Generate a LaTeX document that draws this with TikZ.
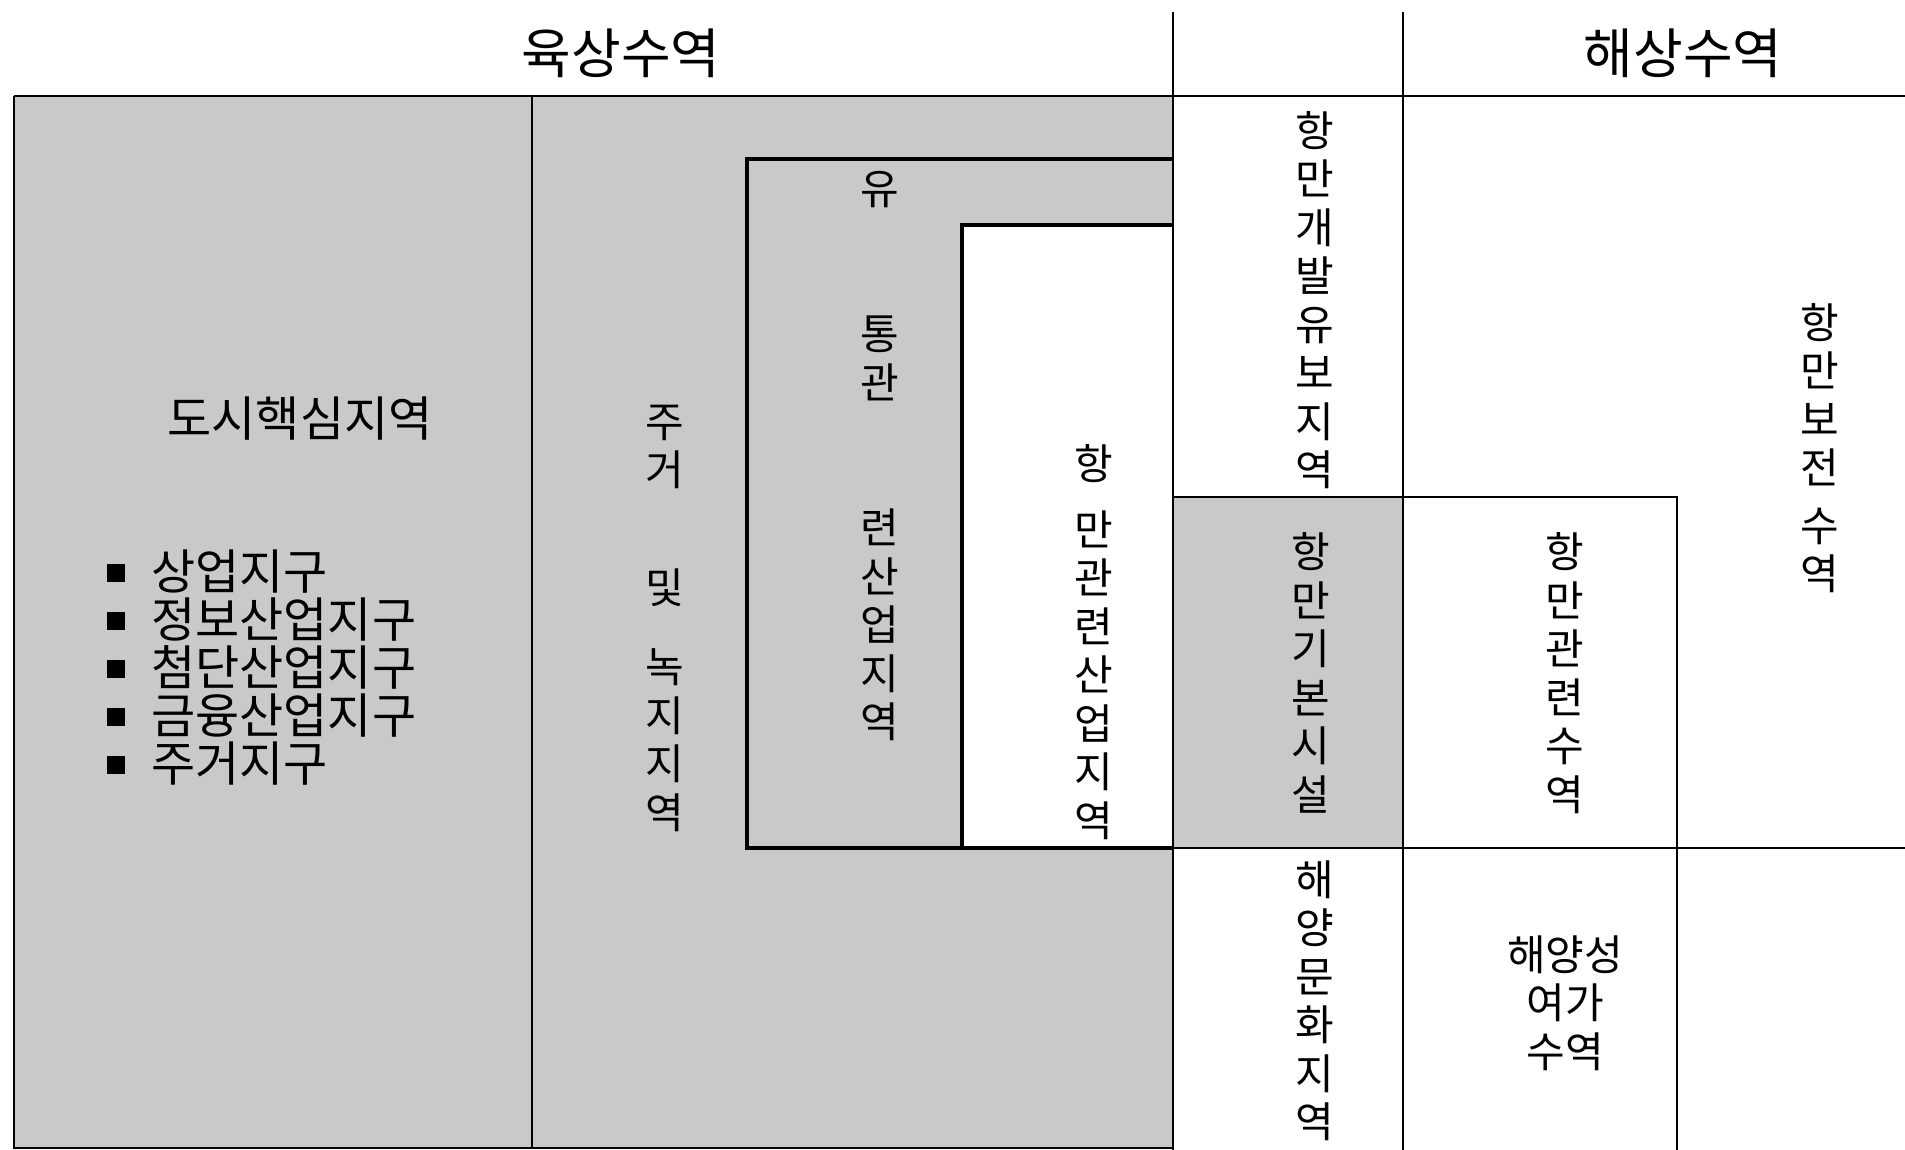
\documentclass[tikz,border=0pt]{standalone}
\usepackage{fontspec}
\setmainfont{Noto Sans CJK KR}
\definecolor{zonegray}{gray}{0.79}
\tikzset{
  vtxt/.style={align=center, inner sep=0pt, font=\fontsize{42}{48.5}\selectfont},
  htxt/.style={inner sep=0pt, font=\fontsize{54}{60}\selectfont},
  ctxt/.style={inner sep=0pt, font=\fontsize{48}{52}\selectfont},
  ltxt/.style={inner sep=0pt, font=\fontsize{48}{48}\selectfont},
  thinline/.style={line width=1.6pt},
  thickline/.style={line width=4pt},
  midline/.style={line width=2.6pt},
}
\begin{document}
\begin{tikzpicture}[x=1pt,y=-1pt]
\useasboundingbox (0,0) rectangle (1905,1150);
% shaded areas
\fill[zonegray] (14,96) rectangle (1173,1148);
\fill[white] (962,225) rectangle (1173,848);
\fill[zonegray] (1173,497) rectangle (1403,848);
% frame lines
\draw[thinline] (14,96) -- (1905,96);
\draw[thinline] (1173,12) -- (1173,1150);
\draw[thinline] (1403,12) -- (1403,1150);
\draw[midline] (532,96) -- (532,1148);
\draw[thinline] (14,96) -- (14,1148) -- (1173,1148);
\draw[thickline] (1173,159) -- (747,159) -- (747,848) -- (1173,848);
\draw[thickline] (1173,225) -- (962,225) -- (962,848);
\draw[thinline] (1173,497) -- (1677,497) -- (1677,1150);
\draw[thinline] (1173,848) -- (1905,848);
% headers
\node[htxt] (land) at (621,53) {육상수역};
\node[htxt] (sea) at (1683,53) {해상수역};
% left column
\node[ctxt] (core) at (300,419) {도시핵심지역};
\node[ltxt, align=left, anchor=west] (list) at (107,668) {%
\rule[8pt]{18pt}{18pt}\hspace{26pt}상업지구\\
\rule[8pt]{18pt}{18pt}\hspace{26pt}정보산업지구\\
\rule[8pt]{18pt}{18pt}\hspace{26pt}첨단산업지구\\
\rule[8pt]{18pt}{18pt}\hspace{26pt}금융산업지구\\
\rule[8pt]{18pt}{18pt}\hspace{26pt}주거지구};
% vertical labels
\node[vtxt] (resid) at (665,618) {주\\거\\[69pt]및\\[31pt]녹\\지\\지\\역};
\node[vtxt] (dist) at (880,456) {유\\[97pt]통\\관\\[97pt]련\\산\\업\\지\\역};
\node[vtxt] (portind) at (1094,642) {항\\[17pt]만\\관\\련\\산\\업\\지\\역};
\node[vtxt] (reserve) at (1315,300) {항\\만\\개\\발\\유\\보\\지\\역};
\node[vtxt] (basic) at (1311,673) {항\\만\\기\\본\\시\\설};
\node[vtxt] (culture) at (1315,1001) {해\\양\\문\\화\\지\\역};
\node[vtxt] (related) at (1565,673) {항\\만\\관\\련\\수\\역};
\node[vtxt] (conserve) at (1820,448) {항\\만\\보\\전\\[9pt]수\\역};
\node[vtxt] (leisure) at (1565,1003) {해양성\\여가\\수역};
\end{tikzpicture}
\end{document}
